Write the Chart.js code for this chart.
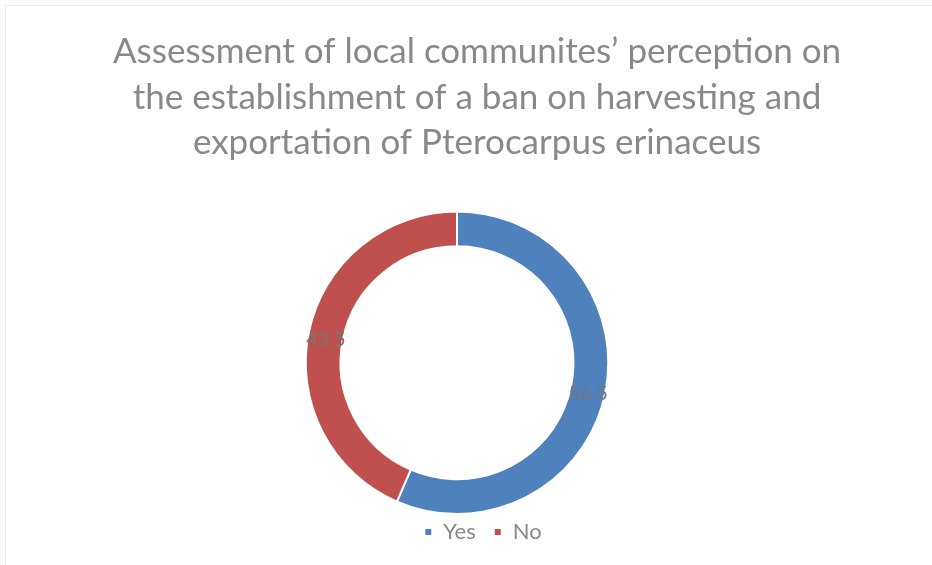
<!DOCTYPE html>
<html>
<head>
<meta charset="utf-8">
<script src="https://cdn.jsdelivr.net/npm/chart.js@4/dist/chart.umd.min.js"></script>
<style>
  html, body { margin: 0; padding: 0; background: #fff; overflow: hidden; }
  #frame { position: absolute; left: 5px; top: 5px; width: 940px; height: 580px; border: 1px solid #ececec; }
  #wrap { position: absolute; left: 0; top: 0; width: 932px; height: 565px; }
</style>
</head>
<body>
<div id="frame"></div>
<div id="wrap"><canvas id="chart" width="932" height="565"></canvas></div>
<script>
const titleLines = [
  'Assessment of local communites\u2019 perception on',
  'the establishment of a ban on harvesting and',
  'exportation of Pterocarpus erinaceus'
];
const categories = ['Yes', 'No'];
const values = [56.5, 43.5];
const colors = ['#4F81BD', '#C0504D'];

// title and legend sit a bit right of the ring, legend overlaps the plot area a bit
const nudgeBoxes = {
  id: 'nudgeBoxes',
  afterLayout(chart) {
    const t = chart.titleBlock;
    t.left += 20; t.right += 20;
    const lg = chart.legend;
    lg.left += 26; lg.right += 26;
    lg.top -= 12; lg.bottom -= 12;
  }
};

// draws the value of each slice on the ring
const sliceLabels = {
  id: 'sliceLabels',
  afterDatasetsDraw(chart) {
    const ctx = chart.ctx;
    const meta = chart.getDatasetMeta(0);
    ctx.save();
    ctx.font = '20px Lato, "Open Sans", sans-serif';
    ctx.fillStyle = '#767676';
    ctx.textAlign = 'center';
    ctx.textBaseline = 'middle';
    meta.data.forEach((arc, i) => {
      const p = arc.tooltipPosition();
      ctx.fillText(String(values[i]), p.x, p.y + 4);
    });
    ctx.restore();
  }
};

new Chart(document.getElementById('chart'), {
  type: 'doughnut',
  data: {
    labels: categories,
    datasets: [{
      data: values,
      backgroundColor: colors,
      borderColor: '#ffffff',
      borderWidth: 2,
      hoverOffset: 0
    }]
  },
  options: {
    responsive: false,
    animation: false,
    cutout: '77%',
    layout: { padding: { top: 22, bottom: 10, left: 0, right: 18 } },
    plugins: {
      title: {
        display: true,
        text: titleLines,
        color: '#898989',
        font: { family: 'Lato, "Open Sans", sans-serif', size: 35, weight: 'normal', lineHeight: 1.3 },
        padding: { top: 7, bottom: 45 }
      },
      legend: {
        position: 'bottom',
        maxHeight: 40,
        labels: {
          color: '#898989',
          font: { family: 'Lato, "Open Sans", sans-serif', size: 22 },
          boxWidth: 8,
          boxHeight: 8,
          padding: 18
        }
      },
      tooltip: { enabled: false }
    }
  },
  plugins: [nudgeBoxes, sliceLabels]
});
</script>
</body>
</html>
